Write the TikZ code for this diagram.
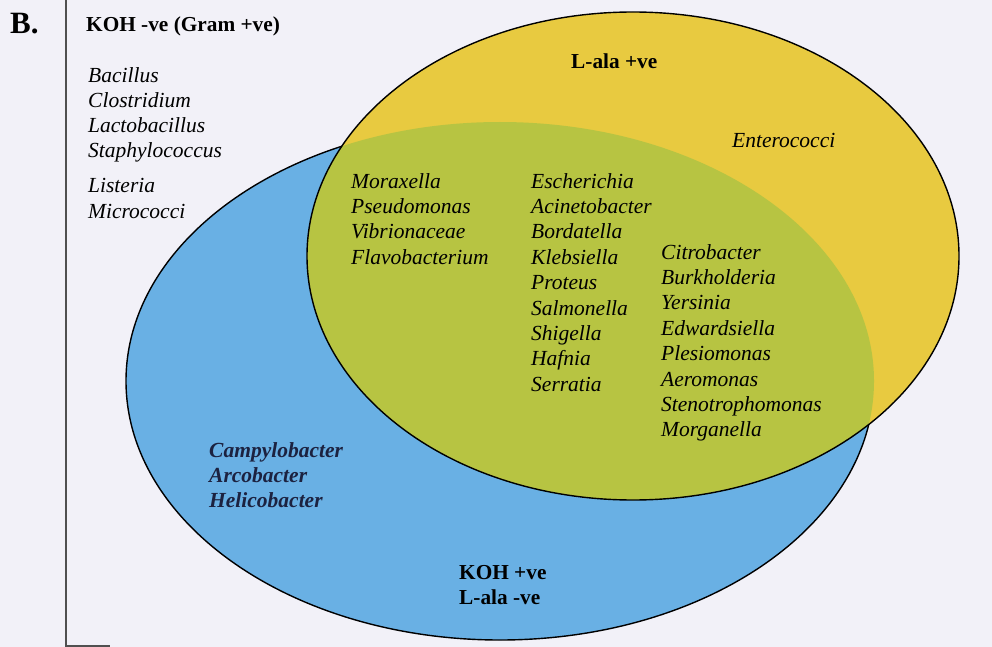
\documentclass[tikz,border=0pt]{standalone}
\usepackage{fontspec}
\setmainfont{Liberation Serif}
\definecolor{bgc}{HTML}{F2F1F8}
\definecolor{bluec}{HTML}{69B0E4}
\definecolor{yellowc}{HTML}{E8CA40}
\definecolor{greenc}{HTML}{B7C442}
\definecolor{navyc}{HTML}{1C2240}
\definecolor{framec}{HTML}{505050}
\begin{document}
\begin{tikzpicture}[x=1pt,y=-1pt,
  genus/.style={anchor=base west, inner sep=0pt, font=\fontsize{21.5}{25}\selectfont\itshape},
  genusb/.style={anchor=base west, inner sep=0pt, text=navyc, font=\fontsize{21.5}{25}\selectfont\bfseries\itshape},
  heading/.style={anchor=base west, inner sep=0pt, font=\fontsize{21.3}{25}\selectfont\bfseries},
  outline/.style={draw=black, line width=1.4pt}]
\fill[bgc] (0,0) rectangle (992,647);
\useasboundingbox (0,0) rectangle (992,647);
% frame
\draw[framec, line width=1.3pt] (66,0) -- (66,646) -- (110,646);
% blue ellipse
\fill[bluec] (500,381) ellipse [x radius=374pt, y radius=259pt];
\draw[outline] (500,381) ellipse [x radius=374pt, y radius=259pt];
% yellow ellipse
\fill[yellowc] (633,256) ellipse [x radius=326pt, y radius=244pt];
\begin{scope}
  \clip (633,256) ellipse [x radius=326pt, y radius=244pt];
  \fill[greenc] (500,381) ellipse [x radius=374pt, y radius=259pt];
\end{scope}
\draw[outline] (633,256) ellipse [x radius=326pt, y radius=244pt];
% headings
\node[anchor=base west, inner sep=0pt, font=\fontsize{31}{36}\selectfont\bfseries] (B) at (10,34) {B.};
\node[heading] (kohneg) at (86,32) {KOH -ve (Gram +ve)};
\node[heading] (lalapos) at (571,69) {L-ala +ve};
\node[heading] (kohpos) at (459,579) {KOH +ve};
\node[heading] (lalaneg) at (459,604) {L-ala -ve};
% left list
\node[genus] (g1) at (88,83) {Bacillus};
\node[genus] (g2) at (88,108) {Clostridium};
\node[genus] (g3) at (88,133) {Lactobacillus};
\node[genus] (g4) at (88,158) {Staphylococcus};
\node[genus] (g5) at (88,193) {Listeria};
\node[genus] (g6) at (88,218) {Micrococci};
% enterococci
\node[genus] (ent) at (732,148) {Enterococci};
% column 1
\node[genus] (c11) at (351,188) {Moraxella};
\node[genus] (c12) at (351,213.4) {Pseudomonas};
\node[genus] (c13) at (351,238.8) {Vibrionaceae};
\node[genus] (c14) at (351,264.2) {Flavobacterium};
% column 2
\node[genus] (c21) at (531,188) {Escherichia};
\node[genus] (c22) at (531,213.4) {Acinetobacter};
\node[genus] (c23) at (531,238.8) {Bordatella};
\node[genus] (c24) at (531,264.2) {Klebsiella};
\node[genus] (c25) at (531,289.6) {Proteus};
\node[genus] (c26) at (531,315) {Salmonella};
\node[genus] (c27) at (531,340.4) {Shigella};
\node[genus] (c28) at (531,365.8) {Hafnia};
\node[genus] (c29) at (531,391.2) {Serratia};
% column 3
\node[genus] (c31) at (661,259) {Citrobacter};
\node[genus] (c32) at (661,284.4) {Burkholderia};
\node[genus] (c33) at (661,309.8) {Yersinia};
\node[genus] (c34) at (661,335.2) {Edwardsiella};
\node[genus] (c35) at (661,360.6) {Plesiomonas};
\node[genus] (c36) at (661,386) {Aeromonas};
\node[genus] (c37) at (661,411.4) {Stenotrophomonas};
\node[genus] (c38) at (661,436.8) {Morganella};
% blue only
\node[genusb] (b1) at (209,457) {Campylobacter};
\node[genusb] (b2) at (209,482) {Arcobacter};
\node[genusb] (b3) at (209,507) {Helicobacter};
\end{tikzpicture}
\end{document}
